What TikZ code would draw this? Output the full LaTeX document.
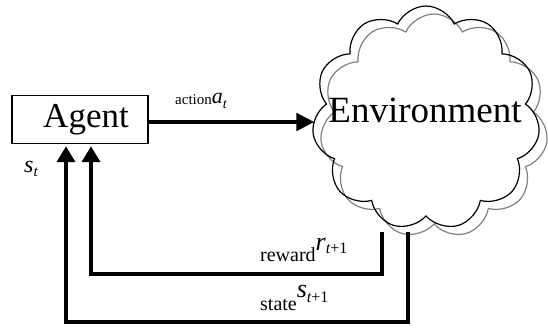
\documentclass[tikz,border=0pt]{standalone}
\usepackage{fontspec}
\setmainfont{Liberation Serif}
\usetikzlibrary{arrows.meta,shapes.symbols}
\newcommand\fs[1]{\fontsize{#1}{#1}\selectfont}
\begin{document}
\begin{tikzpicture}[x=1pt,y=-1pt,
  conn/.style={line width=4.5pt, -{Triangle[length=16pt,width=18pt]}, shorten >=2pt},
  lbl/.style={anchor=base west, inner sep=0pt},
  envcloud/.style={cloud, cloud puffs=11, cloud puff arc=130, aspect=1,
    minimum width=228pt, minimum height=224pt, line width=1.2pt, inner sep=0pt}]
\useasboundingbox (0,0) rectangle (548,331);
% environment cloud with grey shadow
\node[envcloud, draw=gray] (envshadow) at (434,126) {};
\node[envcloud, draw=black] (env) at (426,118) {};
\node[anchor=base, inner sep=0pt] (envlabel) at (425,123) {\fs{37}Environment};
% agent
\node[draw, line width=1.5pt, minimum width=136pt, minimum height=48pt, inner sep=0pt]
  (agent) at (80,119.5) {\fs{35}\hspace*{12pt}Agent};
% action
\draw[line width=4.5pt, -{Triangle[length=18pt,width=17pt]}]
  ([yshift=-2.5pt]agent.east) -- ([yshift=-2.5pt]agent.east -| env.west);
\node[lbl] (actlbl) at (175,105) {\fs{15}action\raisebox{1pt}{\fs{22}\itshape a}\raisebox{-4pt}{\fs{14}\itshape t}};
% feedback
\coordinate (rwd) at (382,232);
\coordinate (sta) at (408,232);
\draw[conn] (rwd) -- ++(0,42) -| ([xshift=11pt]agent.south);
\draw[conn] (sta) -- ++(0,90) -| ([xshift=-14pt]agent.south);
\node[lbl] (rwdlbl) at (260,261) {\fs{20}reward\raisebox{11pt}{\fs{26}\itshape r}\raisebox{8pt}{\fs{16}\itshape t\upshape +1}};
\node[lbl] (stalbl) at (260,310) {\fs{20}state\raisebox{13pt}{\fs{26}\itshape s}\raisebox{8pt}{\fs{16}\itshape t\upshape +1}};
\node[lbl] (stlbl) at (24,172) {\fs{24}\itshape s\raisebox{-4pt}{\fs{15}t}};
\end{tikzpicture}
\end{document}
